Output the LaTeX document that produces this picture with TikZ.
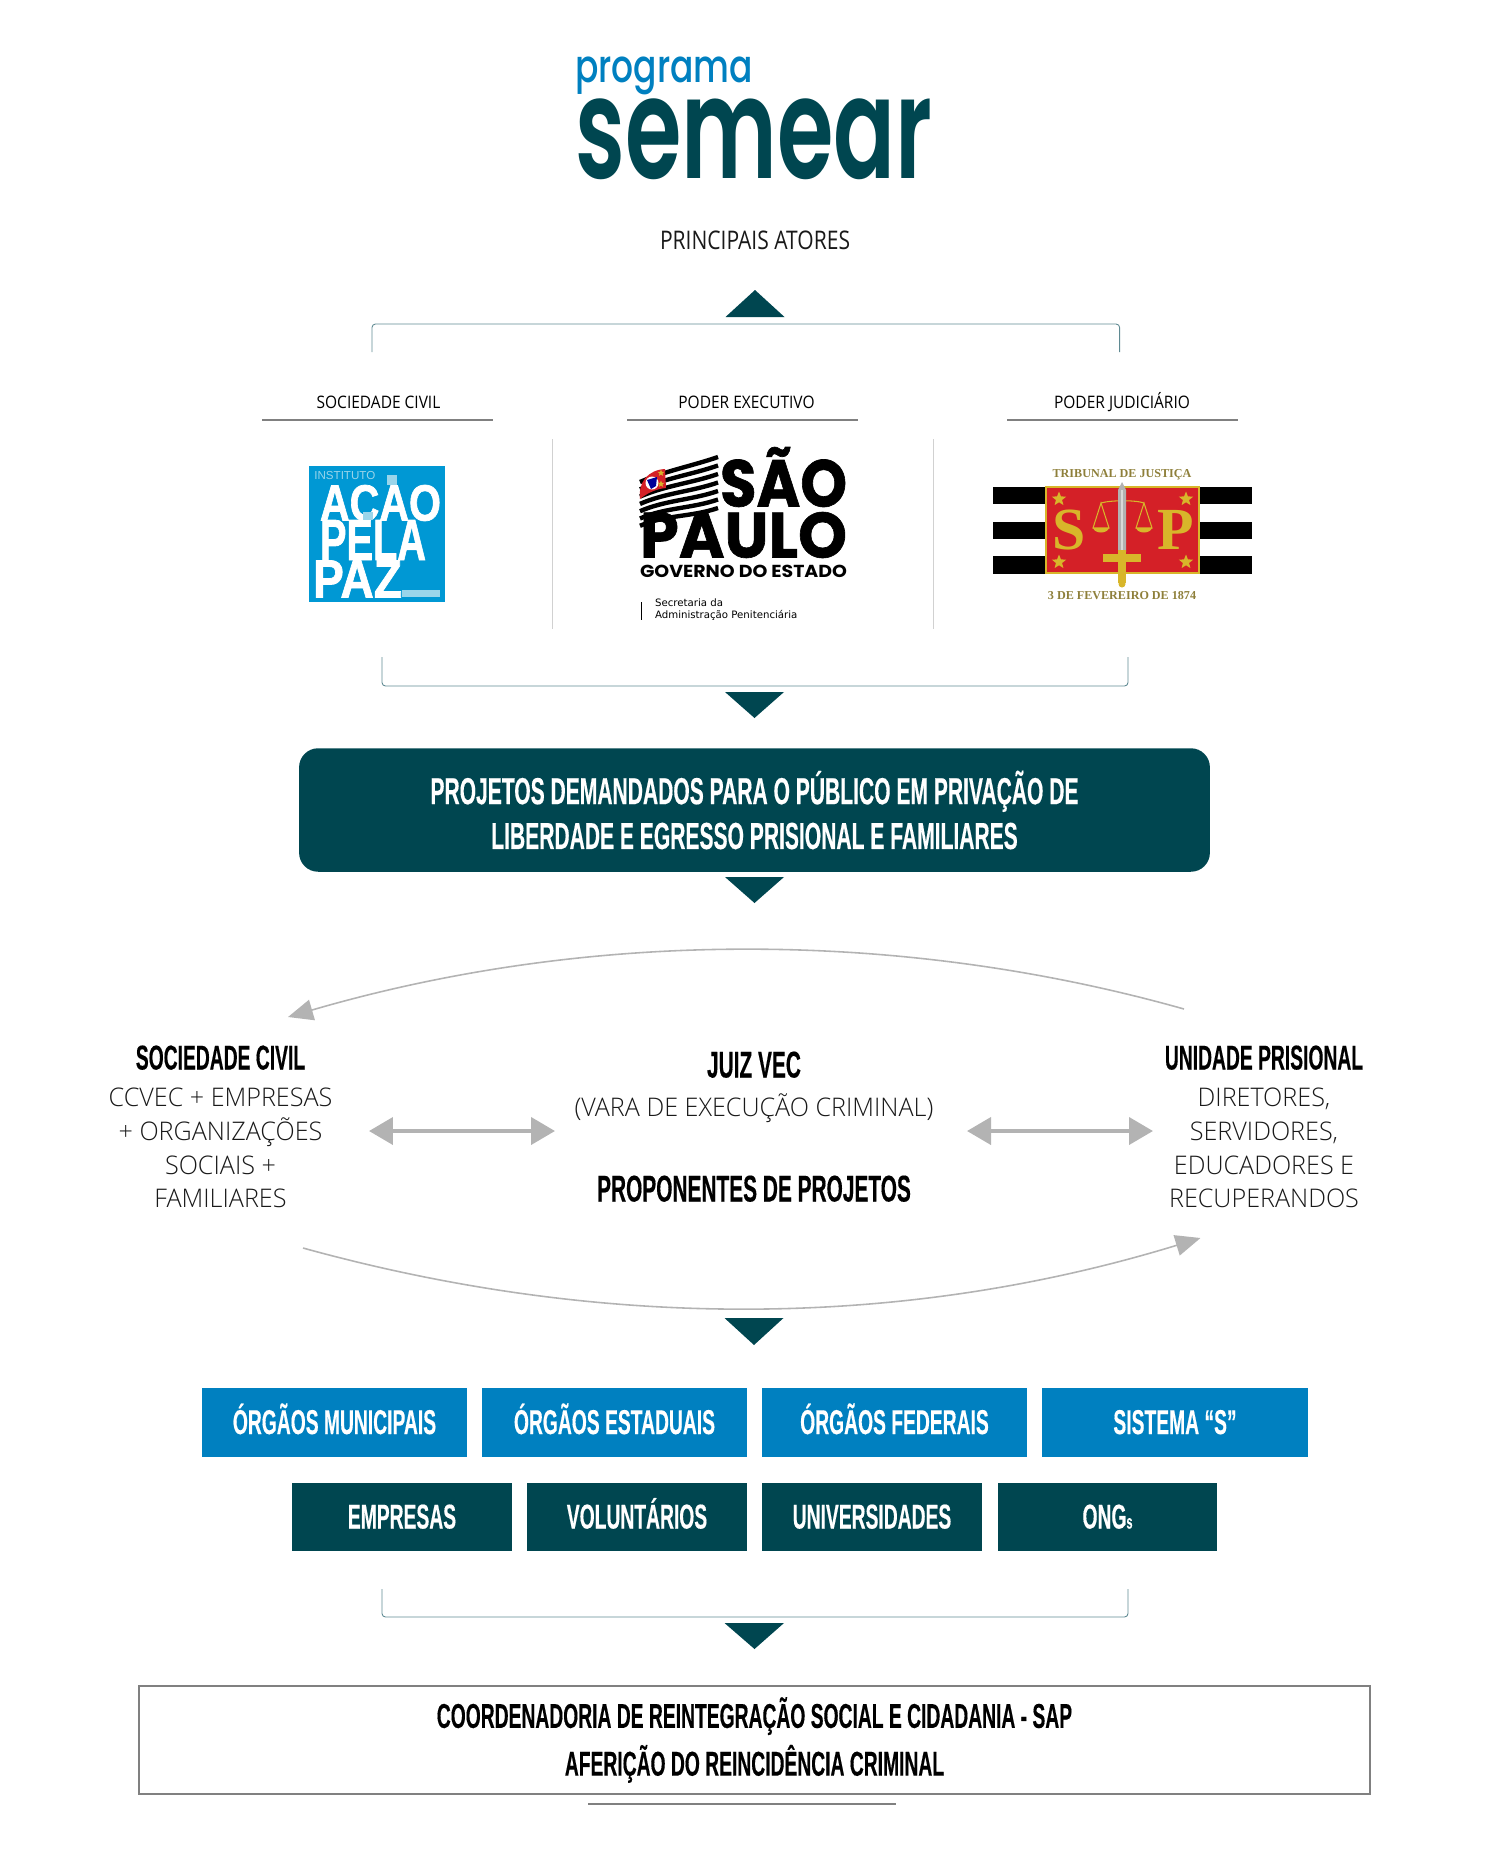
\documentclass[tikz,border=0pt]{standalone}
\usepackage{fontspec}
\usepackage{graphicx}
\usetikzlibrary{arrows.meta}
\usetikzlibrary{shapes.geometric}

\newfontfamily\headfont[UprightFont=* Bold,FakeStretch=0.56,FakeBold=0.3]{Liberation Sans}
\newfontfamily\lightfont[FakeStretch=0.98]{Open Sans Light}
\newfontfamily\mainttlfont[FakeStretch=0.82]{Open Sans}
\newfontfamily\colttlfont[FakeStretch=0.9]{Open Sans}
\newfontfamily\logofont[UprightFont=* Medium]{Poppins}
\newfontfamily\logomainfont[UprightFont=* SemiBold]{Poppins}
\newfontfamily\spfont[UprightFont=* Bold,FakeBold=1]{Poppins}
\newfontfamily\govfont[UprightFont=* Bold]{Poppins}
\newfontfamily\pazfont[UprightFont=* Bold,FakeBold=1.5]{Liberation Sans}
\newfontfamily\emblemfont{Liberation Serif}
\newfontfamily\plainfont{Liberation Sans}
\newfontfamily\smallfont{DejaVu Sans}

\definecolor{tealdark}{HTML}{004650}
\definecolor{blueorg}{HTML}{0080C0}
\definecolor{greymark}{HTML}{B3B3B3}
\definecolor{bracketcol}{HTML}{5F8A92}
\definecolor{rulegrey}{HTML}{808080}
\definecolor{pazblue}{HTML}{0098D4}
\definecolor{pazlight}{HTML}{9AD5EA}
\definecolor{spred}{HTML}{D42027}
\definecolor{spgold}{HTML}{D8B62A}
\definecolor{spolive}{HTML}{8E7F3A}

\tikzset{
  bracketline/.style={draw=bracketcol, line width=0.5pt, rounded corners=2pt},
  thinrule/.style={draw=rulegrey, line width=0.6pt},
  sepline/.style={draw=black!18, line width=0.5pt},
  tealmark/.style={fill=tealdark},
  curvearrow/.style={draw=greymark, line width=0.9pt, -{Triangle[length=0.5cm,width=0.42cm,fill=greymark]}},
  doublearrow/.style={draw=greymark, line width=0.08cm, {Triangle[length=0.48cm,width=0.54cm,fill=greymark]}-{Triangle[length=0.48cm,width=0.54cm,fill=greymark]}},
  lighttext/.style={anchor=base, inner sep=0pt, text=black!90, font={\lightfont\fontsize{14.6}{17}\selectfont}},
  mainttl/.style={anchor=base, inner sep=0pt, text=black!90, font={\mainttlfont\fontsize{14.6}{17}\selectfont}},
  smalltitle/.style={anchor=base, inner sep=0pt, text=black, font={\colttlfont\fontsize{9.8}{12}\selectfont}},
  headtext/.style={anchor=base, inner sep=0pt, text=black, font={\headfont\fontsize{19.6}{22}\selectfont}},
  midhead/.style={anchor=base, inner sep=0pt, text=black, font={\headfont\fontsize{21.2}{24}\selectfont}},
  bluebox/.style={fill=blueorg, text=white, minimum width=5.32cm, minimum height=1.38cm, inner sep=0pt, text height=0.46cm, text depth=0cm, font={\headfont\fontsize{19.6}{22}\selectfont}},
  tealbox/.style={fill=tealdark, text=white, minimum width=4.4cm, minimum height=1.36cm, inner sep=0pt, text height=0.46cm, text depth=0cm, font={\headfont\fontsize{19.6}{22}\selectfont}},
  tealpanel/.style={fill=tealdark, text=white, rounded corners=0.38cm, minimum width=18.22cm, minimum height=2.47cm, inner sep=0pt, align=center, font={\headfont\fontsize{21.4}{25.5}\selectfont}},
  resultbox/.style={draw=rulegrey, line width=1pt, minimum width=24.63cm, minimum height=2.16cm, inner sep=0pt, align=center, font={\headfont\fontsize{19.6}{27.2}\selectfont}},
  logotext/.style={inner sep=0pt},
  pazword/.style={inner sep=0pt, text=white, font={\pazfont}},
  spstar/.style={star, star points=5, star point ratio=2.3, fill=spgold, minimum size=0.3cm, inner sep=0pt},
  emblemtext/.style={anchor=base, inner sep=0pt, text=spolive, font={\emblemfont\bfseries\fontsize{6.9}{9}\selectfont}},
  emblemletter/.style={inner sep=0pt, text=spgold, font={\emblemfont\bfseries\fontsize{34}{36}\selectfont}},
  scaleline/.style={draw=spgold, line width=0.6pt},
}

\begin{document}
\begin{tikzpicture}[x=0.02cm, y=-0.02cm]
\useasboundingbox (0,0) rectangle (1500,1860);

% Logo
\node[logotext, text=blueorg] (logotop) at (664,76) {\resizebox*{3.56cm}{0.76cm}{\logofont programa}};
\node[logotext, text=tealdark] (logomain) at (754,139) {\resizebox*{7.14cm}{1.62cm}{\logomainfont semear}};
\node[mainttl] (atores) at (755,249.5) {PRINCIPAIS ATORES};
\fill[tealmark] (755,290) -- (784.5,317) -- (725.5,317) -- cycle;

% Top bracket
\coordinate (topA) at (372,352);
\coordinate (topB) at (372,324);
\coordinate (topC) at (1119.6,324);
\coordinate (topD) at (1119.6,352);
\draw[bracketline] (topA) -- (topB) -- (topC) -- (topD);

% Three columns
\node[smalltitle] (civilttl) at (378.5,408) {SOCIEDADE CIVIL};
\node[smalltitle] (execttl) at (746.5,408) {PODER EXECUTIVO};
\node[smalltitle] (judttl) at (1122,408) {PODER JUDICIÁRIO};
\draw[thinrule] (262,420) -- (493,420);
\draw[thinrule] (627,420) -- (858,420);
\draw[thinrule] (1007,420) -- (1238,420);
\draw[sepline] (552,439) -- (552,629);
\draw[sepline] (933.5,439) -- (933.5,629);

% Logo paz
\fill[pazblue] (309,466) rectangle (445,602);
\node[anchor=west, inner sep=0pt, text=pazlight, font={\plainfont\fontsize{6.6}{8}\selectfont}] (pazinst) at (314,475.5) {INSTITUTO};
\node[pazword] (pazone) at (380.5,503) {\resizebox*{2.42cm}{0.72cm}{ACAO}};
\node[pazword] (paztwo) at (373,540) {\resizebox*{2.12cm}{0.8cm}{PELA}};
\node[pazword] (pazthree) at (357.5,579) {\resizebox*{1.78cm}{0.74cm}{PAZ}};
\fill[pazlight] (387,475) rectangle (397,485);
\fill[pazlight] (363,512) rectangle (373,520);
\fill[pazlight] (402,590) rectangle (440,597);

% Logo sao paulo
\foreach \k in {0,...,6}{
\draw[black, line width=2.5pt] (640,{482+\k*7.3}) .. controls (665,{471+\k*7.3}) and (692,{466+\k*8.5}) .. (718,{457+\k*8.5});
}
\fill[spred] (640,499) .. controls (638,482) and (648,470) .. (665,469) -- (666,488) .. controls (655,489) and (646,494) .. (640,499) -- cycle;
\fill[white] (652,483) circle (6.5);
\fill[blue!60!black] (647,480) -- (657,477) -- (656,486) -- (651,489) -- cycle;
\node[spstar, minimum size=0.14cm] (flagstara) at (661,473) {};
\node[spstar, minimum size=0.14cm] (flagstarb) at (661,484) {};
\node[logotext] (saoword) at (783.5,477) {\resizebox*{2.54cm}{1.2cm}{\spfont SÃO}};
\node[logotext] (pauloword) at (743.5,535) {\resizebox*{4.14cm}{0.92cm}{\spfont PAULO}};
\node[logotext] (governo) at (743.5,571) {\resizebox*{4.14cm}{0.25cm}{\govfont GOVERNO DO ESTADO}};
\draw[black, line width=0.7pt] (641.5,602) -- (641.5,620);
\node[anchor=west, inner sep=0pt, font={\smallfont\fontsize{5.8}{7}\selectfont}] (secrone) at (654.7,603) {Secretaria da};
\node[anchor=west, inner sep=0pt, font={\smallfont\fontsize{5.8}{7}\selectfont}] (secrtwo) at (654.7,615.5) {Administração Penitenciária};

% Logo tribunal
\fill[black] (993,487) rectangle (1252,504);
\fill[black] (993,522) rectangle (1252,539);
\fill[black] (993,556) rectangle (1252,574);
\draw[draw=spgold, fill=spred, line width=1.4pt] (1046,487) rectangle (1199,573);
\node[spstar] (stara) at (1059,499) {};
\node[spstar] (starb) at (1186,499) {};
\node[spstar] (starc) at (1059,562) {};
\node[spstar] (stard) at (1186,562) {};
\node[emblemletter] (letters) at (1069,530) {S};
\node[emblemletter] (letterp) at (1176,530) {P};
\draw[scaleline] (1101,503) .. controls (1111,500) and (1136,500) .. (1144,503);
\draw[scaleline] (1101,503) -- (1093,528) -- (1109,528) -- cycle;
\draw[scaleline] (1144,503) -- (1136,528) -- (1152,528) -- cycle;
\fill[spgold] (1093,528) .. controls (1095,534) and (1107,534) .. (1109,528) -- cycle;
\fill[spgold] (1136,528) .. controls (1138,534) and (1150,534) .. (1152,528) -- cycle;
\fill[black!30] (1118,490) -- (1122,482) -- (1126,490) -- (1126,552) -- (1118,552) -- cycle;
\fill[white!85!black] (1121,490) rectangle (1123,552);
\fill[spgold] (1118,550) rectangle (1126,583);
\fill[spgold] (1103,554) rectangle (1141,562);
\fill[spgold] (1122,584) circle (3.5);
\node[emblemtext] (tjtop) at (1122,477) {TRIBUNAL DE JUSTIÇA};
\node[emblemtext] (tjbot) at (1122,599) {3 DE FEVEREIRO DE 1874};

% Bracket to panel
\coordinate (midA) at (382,657);
\coordinate (midB) at (382,686);
\coordinate (midC) at (1128,686);
\coordinate (midD) at (1128,657);
\draw[bracketline] (midA) -- (midB) -- (midC) -- (midD);
\fill[tealmark] (725,692) -- (784,692) -- (754.5,718) -- cycle;

% Panel
\node[tealpanel] (panel) at (754.5,810) {PROJETOS DEMANDADOS PARA O PÚBLICO EM PRIVAÇÃO DE\\LIBERDADE E EGRESSO PRISIONAL E FAMILIARES};
\fill[tealmark] (725,877) -- (784,877) -- (754.5,903) -- cycle;

% Actors
\node[headtext] (civilhead) at (220.5,1069.5) {SOCIEDADE CIVIL};
\node[lighttext] (civilone) at (220.5,1106.5) {CCVEC + EMPRESAS};
\node[lighttext] (civiltwo) at (220.5,1140.5) {+ ORGANIZAÇÕES};
\node[lighttext] (civilthree) at (220.5,1174.5) {SOCIAIS +};
\node[lighttext] (civilfour) at (220.5,1207.5) {FAMILIARES};

\node[midhead] (juizhead) at (754,1077.5) {JUIZ VEC};
\node[lighttext] (juizone) at (754,1116.5) {(VARA DE EXECUÇÃO CRIMINAL)};
\node[midhead] (juiztwo) at (754,1201.5) {PROPONENTES DE PROJETOS};

\node[headtext] (unidhead) at (1264,1069.5) {UNIDADE PRISIONAL};
\node[lighttext] (unidone) at (1264,1106.5) {DIRETORES,};
\node[lighttext] (unidtwo) at (1264,1140.5) {SERVIDORES,};
\node[lighttext] (unidthree) at (1264,1174.5) {EDUCADORES E};
\node[lighttext] (unidfour) at (1264,1207.5) {RECUPERANDOS};

% Arrows between actors
\coordinate (dblA) at (369,1131);
\coordinate (dblB) at (555,1131);
\coordinate (dblC) at (967,1131);
\coordinate (dblD) at (1153,1131);
\draw[doublearrow] (dblA) -- (dblB);
\draw[doublearrow] (dblC) -- (dblD);

\coordinate (upstart) at (1184,1009);
\coordinate (upend) at (288,1017);
\draw[curvearrow] (upstart) .. controls (900,929) and (590,929) .. (upend);
\coordinate (lowstart) at (303,1248);
\coordinate (lowend) at (1200.5,1238);
\draw[curvearrow] (lowstart) .. controls (600,1330) and (900,1330) .. (lowend);
\fill[tealmark] (724.5,1318) -- (783.5,1318) -- (754,1345) -- cycle;

% Partners
\node[bluebox] (orgmun) at (334.5,1422.5) {ÓRGÃOS MUNICIPAIS};
\node[bluebox] (orgest) at (614.5,1422.5) {ÓRGÃOS ESTADUAIS};
\node[bluebox] (orgfed) at (894.5,1422.5) {ÓRGÃOS FEDERAIS};
\node[bluebox] (sistema) at (1175,1422.5) {SISTEMA “S”};
\node[tealbox] (empresas) at (402,1517) {EMPRESAS};
\node[tealbox] (volunt) at (637,1517) {VOLUNTÁRIOS};
\node[tealbox] (univ) at (872,1517) {UNIVERSIDADES};
\node[tealbox] (ongs) at (1107.5,1517) {ONG{\fontsize{11}{12}\selectfont s}};

% Bottom bracket
\coordinate (lowA) at (382,1589);
\coordinate (lowB) at (382,1617);
\coordinate (lowC) at (1128,1617);
\coordinate (lowD) at (1128,1589);
\draw[bracketline] (lowA) -- (lowB) -- (lowC) -- (lowD);
\fill[tealmark] (724.5,1623) -- (784,1623) -- (754.5,1649) -- cycle;

% Result
\node[resultbox] (result) at (754.5,1740) {COORDENADORIA DE REINTEGRAÇÃO SOCIAL E CIDADANIA - SAP\\AFERIÇÃO DO REINCIDÊNCIA CRIMINAL};
\draw[thinrule] (588,1804) -- (896,1804);

\end{tikzpicture}
\end{document}
